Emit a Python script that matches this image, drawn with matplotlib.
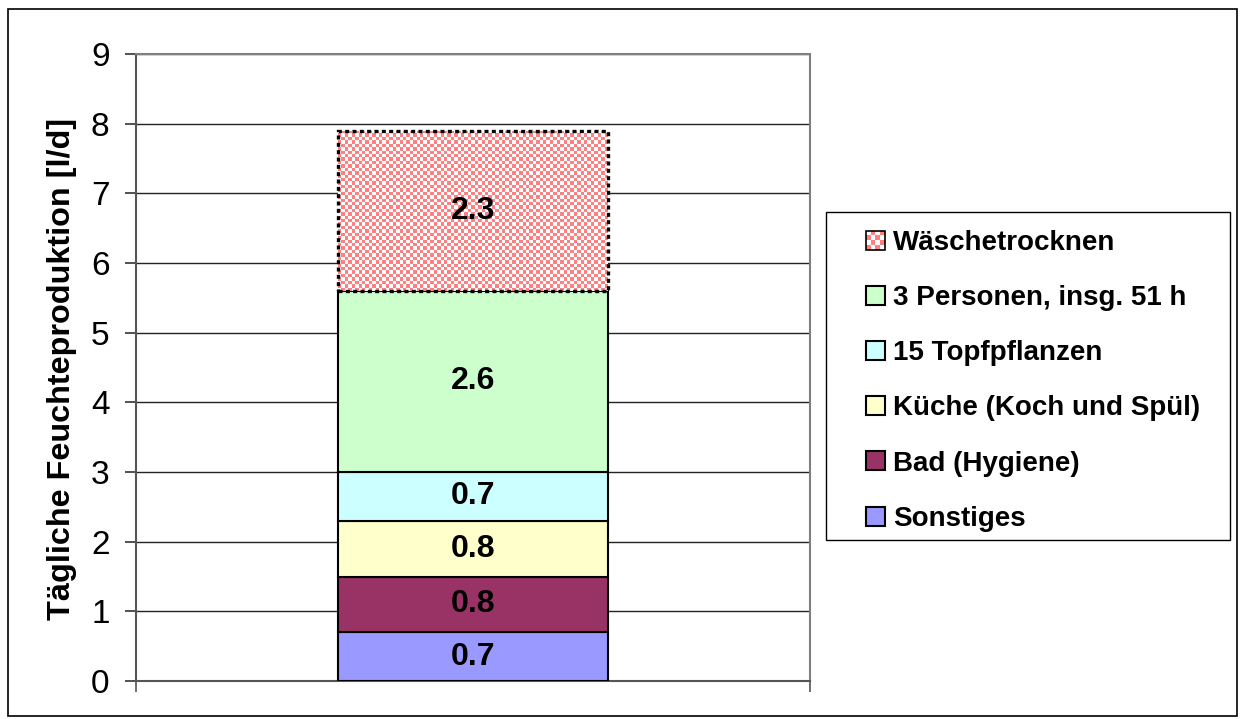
import numpy as np
import matplotlib.pyplot as plt
from matplotlib.patches import Rectangle, Patch
from matplotlib.colors import ListedColormap
from matplotlib.legend_handler import HandlerBase

plt.rcParams["font.family"] = ["Liberation Sans", "DejaVu Sans"]

# data, bottom to top of the stack
categories = ["Sonstiges", "Bad (Hygiene)", "Küche (Koch und Spül)",
              "15 Topfpflanzen", "3 Personen, insg. 51 h", "Wäschetrocknen"]
values = [0.7, 0.8, 0.8, 0.7, 2.6, 2.3]
colors = ["#9999FF", "#993366", "#FFFFCC", "#CCFFFF", "#CCFFCC", "#FF8080"]
y_ticks = list(range(0, 10))
y_label = "Tägliche Feuchteproduktion [l/d]"

W, H = 1240, 719
fig = plt.figure(figsize=(W / 100, H / 100), dpi=100)
ax = fig.add_axes([136 / W, 1 - 681 / H, (810 - 136) / W, (681 - 54) / H])
ax.set_xlim(-0.5, 0.5)
ax.set_ylim(0, 9)

bar_w = 0.4
bottom = 0
for i, (cat, v, c) in enumerate(zip(categories, values, colors)):
    if cat == "Wäschetrocknen":
        bar = ax.bar(0, v, bar_w, bottom=bottom, facecolor="none", edgecolor="black",
                     linewidth=2.4, linestyle=(0, (1.2, 1.0)), zorder=4)[0]
        # checkerboard fill
        px_w = bar_w * (810 - 136)
        px_h = v * (681 - 54) / 9
        nx, ny = int(round(px_w / 3.4)), int(round(px_h / 3.4))
        checker = np.indices((ny, nx)).sum(axis=0) % 2
        im = ax.imshow(checker, extent=(-bar_w / 2, bar_w / 2, bottom, bottom + v),
                       cmap=ListedColormap(["white", c]), interpolation="nearest",
                       aspect="auto", zorder=3)
        im.set_clip_path(bar)
    else:
        ax.bar(0, v, bar_w, bottom=bottom, color=c, edgecolor="black",
               linewidth=1.5, zorder=3)
    ax.text(0, bottom + v / 2, f"{v:.1f}", ha="center", va="center",
            fontsize=23, fontweight="bold", zorder=5)
    bottom += v

ax.set_xlim(-0.5, 0.5)
ax.set_ylim(0, 9)
ax.set_yticks(y_ticks)
ax.set_xticks([-0.5, 0.5])
ax.set_xticklabels([])
ax.tick_params(axis="y", labelsize=24, length=8, width=1.2, pad=11, color="#333333")
ax.tick_params(axis="x", length=8, width=1.2, color="#555555")
ax.yaxis.grid(True, color="#222222", linewidth=1)
ax.set_axisbelow(True)
for s in ["top", "right"]:
    ax.spines[s].set_color("#808080")
    ax.spines[s].set_linewidth(1.5)
for s in ["left", "bottom"]:
    ax.spines[s].set_color("#555555")
    ax.spines[s].set_linewidth(1.5)

fig.text(62 / W, 1 - 369 / H, y_label, rotation=90, ha="center", va="center",
         fontsize=23.3, fontweight="bold")


class HandlerChecker(HandlerBase):
    def create_artists(self, legend, orig_handle, xdescent, ydescent, width, height,
                       fontsize, trans):
        n = 4
        arts = []
        for r in range(n):
            for q in range(n):
                fc = orig_handle.get_facecolor() if (r + q) % 2 == 0 else "white"
                arts.append(Rectangle((-xdescent + q * width / n, -ydescent + r * height / n),
                                      width / n, height / n, facecolor=fc,
                                      edgecolor="none", transform=trans))
        arts.append(Rectangle((-xdescent, -ydescent), width, height, facecolor="none",
                              edgecolor="black", linewidth=1.2, transform=trans))
        return arts


handles = []
for cat, c in zip(categories, colors):
    handles.append(Patch(facecolor=c, edgecolor="black", linewidth=1.5, label=cat))
handles = handles[::-1]
hmap = {handles[0]: HandlerChecker()}
fig.legend(handles=handles, labels=[h.get_label() for h in handles], handler_map=hmap,
           loc="upper left", bbox_to_anchor=(866 / W, 1 - 230 / H), frameon=False,
           borderpad=0, borderaxespad=0, prop={"weight": "bold", "size": 20},
           handlelength=0.68, handleheight=0.68, handletextpad=0.28, labelspacing=1.05)
fig.add_artist(Rectangle((826 / W, 1 - 540 / H), (1230 - 826) / W, (540 - 212) / H,
                         transform=fig.transFigure, facecolor="none", edgecolor="black",
                         linewidth=1))
# outer chart border
fig.add_artist(Rectangle((8 / W, 1 - 716 / H), (1237 - 8) / W, (716 - 9) / H,
                         transform=fig.transFigure, facecolor="none", edgecolor="black",
                         linewidth=1.2))

fig.savefig("out.png", dpi=100)
